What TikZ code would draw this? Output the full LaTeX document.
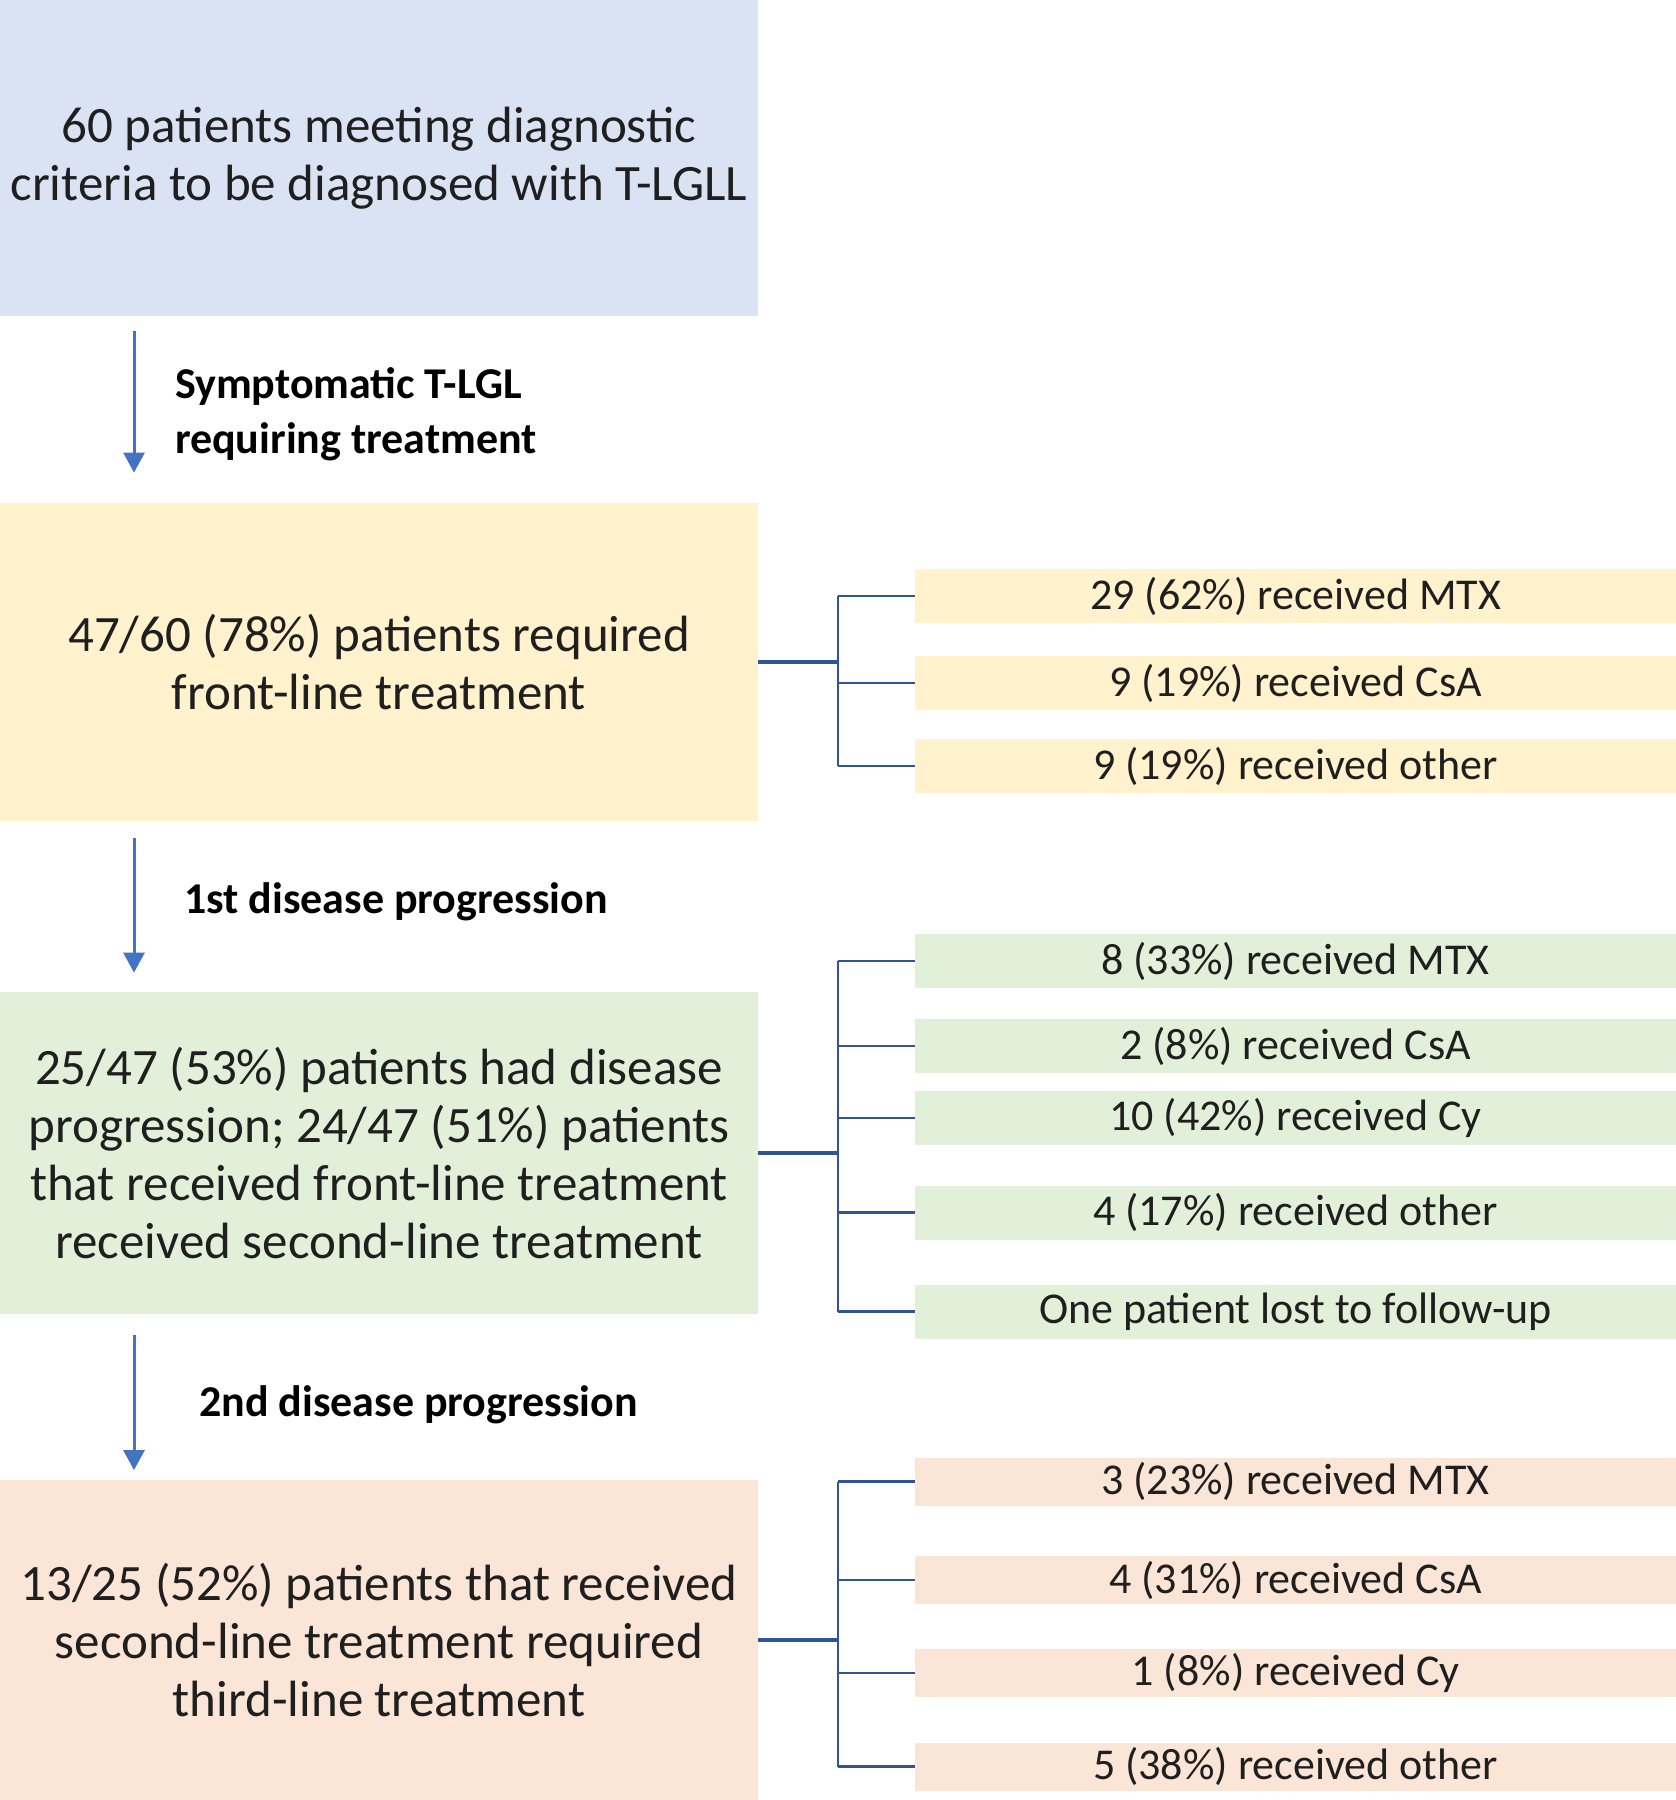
\documentclass[tikz,border=0pt]{standalone}
\usepackage{fontspec}
\setmainfont{Carlito}
\usepackage{xcolor}
\usetikzlibrary{arrows.meta, positioning}

\definecolor{boxblue}{HTML}{DAE3F3}
\definecolor{boxyellow}{HTML}{FFF2CC}
\definecolor{boxgreen}{HTML}{E2F0D9}
\definecolor{boxsalmon}{HTML}{FBE5D6}
\definecolor{arrblue}{HTML}{4472C4}
\definecolor{linkblue}{HTML}{2F5597}
\definecolor{textgray}{HTML}{1F1F1F}

\begin{document}
\begin{tikzpicture}[x=0.5pt, y=-0.5pt,
  mainbox/.style={align=center, font=\fontsize{25.5}{29}\selectfont,
              minimum width=379pt, inner sep=0pt, text=textgray},
  subbox/.style={align=center, font=\fontsize{22}{26}\selectfont,
              minimum width=380.5pt, minimum height=27pt, inner sep=0pt, text=textgray},
  lbl/.style={anchor=west, align=left, font=\bfseries\fontsize{22}{27.5}\selectfont},
  arr/.style={draw=arrblue, line width=1.5pt, -{Triangle[length=10pt, width=10.5pt]}},
  stem/.style={draw=linkblue, line width=2pt},
  twig/.style={draw=linkblue, line width=1.1pt}]
\useasboundingbox (0,0) rectangle (1676,1800);
% main stages
\node[mainbox, fill=boxblue, minimum height=158pt] (diag) at (379,158) {60 patients meeting diagnostic\\criteria to be diagnosed with T-LGLL};
\node[mainbox, fill=boxyellow, minimum height=159pt] (front) at (379,662) {47/60 (78\%) patients required\\front-line treatment};
\node[mainbox, fill=boxgreen, minimum height=161pt] (second) at (379,1153) {25/47 (53\%) patients had disease\\progression; 24/47 (51\%) patients\\that received front-line treatment\\received second-line treatment};
\node[mainbox, fill=boxsalmon, minimum height=160.5pt] (third) at (379,1640) {13/25 (52\%) patients that received\\second-line treatment required\\third-line treatment};
% transitions
\coordinate (spine) at (134,0);
\draw[arr, shorten <=7.5pt, shorten >=15pt] (diag.south -| spine) -- (front.north -| spine);
\draw[arr, shorten <=8.5pt, shorten >=9.5pt] (front.south -| spine) -- (second.north -| spine);
\draw[arr, shorten <=10.5pt, shorten >=4.5pt] (second.south -| spine) -- (third.north -| spine);
\node[lbl] (symp) at (168,414) {Symptomatic T-LGL\\requiring treatment};
\node[lbl] (prog1) at (177,902) {1st disease progression};
\node[lbl] (prog2) at (192,1405) {2nd disease progression};
% front-line treatments
\node[subbox, fill=boxyellow] (mtxA) at (1295.5,596) {29 (62\%) received MTX};
\node[subbox, fill=boxyellow] (csaA) at (1295.5,683) {9 (19\%) received CsA};
\node[subbox, fill=boxyellow] (othA) at (1295.5,766) {9 (19\%) received other};
% second-line treatments
\node[subbox, fill=boxgreen] (mtxB) at (1295.5,961) {8 (33\%) received MTX};
\node[subbox, fill=boxgreen] (csaB) at (1295.5,1046) {2 (8\%) received CsA};
\node[subbox, fill=boxgreen] (cyB) at (1295.5,1118) {10 (42\%) received Cy};
\node[subbox, fill=boxgreen] (othB) at (1295.5,1212.5) {4 (17\%) received other};
\node[subbox, fill=boxgreen] (lost) at (1295.5,1311.5) {One patient lost to follow-up};
% third-line treatments
\node[subbox, fill=boxsalmon, minimum height=24pt] (mtxC) at (1295.5,1481.5) {3 (23\%) received MTX};
\node[subbox, fill=boxsalmon, minimum height=24pt] (csaC) at (1295.5,1580) {4 (31\%) received CsA};
\node[subbox, fill=boxsalmon, minimum height=24pt] (cyC) at (1295.5,1673) {1 (8\%) received Cy};
\node[subbox, fill=boxsalmon, minimum height=24pt] (othC) at (1295.5,1766.5) {5 (38\%) received other};
% brackets
\coordinate (fork) at (838,0);
\draw[stem] (front.east) -- (front.east -| fork);
\draw[twig] (mtxA.west -| fork) -- (othA.west -| fork);
\draw[twig] (mtxA.west -| fork) -- (mtxA.west);
\draw[twig] (csaA.west -| fork) -- (csaA.west);
\draw[twig] (othA.west -| fork) -- (othA.west);
\draw[stem] (second.east) -- (second.east -| fork);
\draw[twig] (mtxB.west -| fork) -- (lost.west -| fork);
\draw[twig] (mtxB.west -| fork) -- (mtxB.west);
\draw[twig] (csaB.west -| fork) -- (csaB.west);
\draw[twig] (cyB.west -| fork) -- (cyB.west);
\draw[twig] (othB.west -| fork) -- (othB.west);
\draw[twig] (lost.west -| fork) -- (lost.west);
\draw[stem] (third.east) -- (third.east -| fork);
\draw[twig] (mtxC.west -| fork) -- (othC.west -| fork);
\draw[twig] (mtxC.west -| fork) -- (mtxC.west);
\draw[twig] (csaC.west -| fork) -- (csaC.west);
\draw[twig] (cyC.west -| fork) -- (cyC.west);
\draw[twig] (othC.west -| fork) -- (othC.west);
\end{tikzpicture}
\end{document}
